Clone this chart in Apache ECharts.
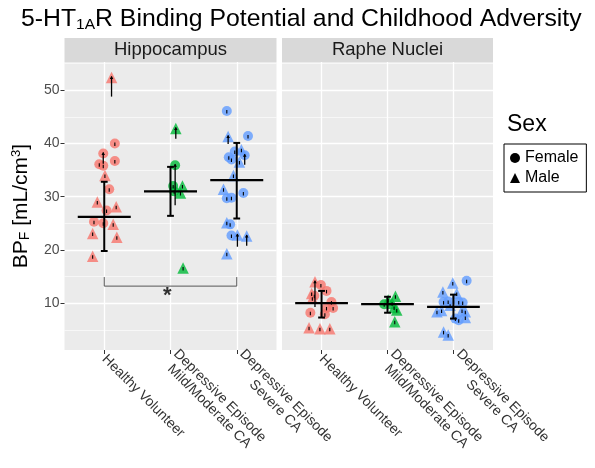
<!DOCTYPE html>
<html><head><meta charset="utf-8">
<script src="https://cdn.jsdelivr.net/npm/echarts@6/dist/echarts.min.js"></script>
<style>html,body{margin:0;padding:0;background:#fff}#c{width:595px;height:468px}</style>
</head><body><div id="c"></div>
<script>
// ---------- data ----------
const groups = ['Healthy Volunteer', 'Depressive Episode\nMild/Moderate CA', 'Depressive Episode\nSevere CA'];
const groupColors = ['#F8766D', '#00BA38', '#619CFF'];
const facets = ['Hippocampus', 'Raphe Nuclei'];
const yTicks = [10, 20, 30, 40, 50];
const yMinor = [5, 15, 25, 35, 45, 55];
const catTicks = [1, 2, 3];

// Hippocampus - Healthy Volunteer
const hipHV_pos = [1.11, 1.16, 0.985, 1.16, 0.925, 0.985, 1.01, 1.075, 0.895, 1.18, 1.035, 0.845, 0.985, 1.135, 0.825, 1.19, 0.825];
const hipHV_val = [52.4, 40.0, 38.1, 36.7, 36.1, 35.8, 34.0, 31.4, 29.0, 28.1, 27.4, 25.3, 25.0, 24.8, 23.1, 22.4, 18.8];
const hipHV_sex = ['M','F','F','F','F','F','M','F','M','M','F','F','F','M','M','M','M'];
const hipHV_tail = [48.8, null, 36.2, null, null, null, null, null, null, null, null, null, null, null, null, null, null];
// Hippocampus - Mild/Moderate CA
const hipMM_pos = [2.08, 2.07, 2.04, 2.055, 2.18, 2.15, 2.19];
const hipMM_val = [42.8, 35.9, 32.0, 31.0, 32.0, 30.7, 16.6];
const hipMM_sex = ['M','F','F','F','M','M','M'];
const hipMM_tail = [40.9, 28.4, null, null, null, null, null];
// Hippocampus - Severe CA
const hipSev_pos = [2.85, 2.87, 3.17, 3.07, 2.88, 2.92, 2.97, 3.12, 3.04, 2.95, 2.80, 2.85, 2.92, 3.10, 2.85, 2.90, 2.92, 3.01, 3.15, 2.85];
const hipSev_val = [46.1, 41.3, 41.4, 38.8, 37.4, 37.0, 38.5, 37.8, 36.5, 34.0, 31.4, 29.7, 29.8, 30.7, 25.1, 24.8, 22.7, 22.8, 22.6, 19.3];
const hipSev_sex = ['F','M','F','M','F','F','F','F','M','M','M','F','F','F','M','F','F','M','M','M'];
const hipSev_tail = [null, 39.9, null, null, null, null, null, 36.0, null, null, null, null, null, null, null, null, null, 20.6, 20.8, null];

// Raphe - Healthy Volunteer
const rapHV_pos = [0.90, 0.99, 1.075, 0.85, 0.86, 0.89, 1.15, 1.075, 1.175, 0.83, 1.05, 0.81, 0.975, 1.125];
const rapHV_val = [14.0, 13.4, 12.3, 11.8, 10.9, 11.4, 10.2, 9.1, 9.1, 8.2, 7.9, 5.4, 5.2, 5.2];
const rapHV_sex = ['M','F','F','M','M','F','F','F','F','F','F','M','M','M'];
const rapHV_tail = [9.3, null, null, null, null, null, null, null, null, null, null, null, null, null];
// Raphe - Mild/Moderate CA
const rapMM_pos = [1.95, 2.12, 2.01, 2.07, 2.10, 2.14, 2.11];
const rapMM_val = [9.8, 11.3, 10.6, 10.0, 9.2, 8.7, 6.5];
const rapMM_sex = ['F','M','M','M','M','M','M'];
const rapMM_tail = [null, null, null, null, null, null, null];
// Raphe - Severe CA
const rapSev_pos = [3.20, 2.99, 2.84, 3.05, 2.85, 2.92, 3.08, 3.14, 2.75, 2.82, 3.13, 3.18, 3.03, 3.08, 3.18, 2.85, 2.92, 2.95];
const rapSev_val = [14.2, 13.8, 12.1, 11.8, 10.2, 10.3, 10.2, 10.1, 8.4, 8.6, 8.6, 8.4, 7.1, 6.8, 7.3, 4.6, 4.0, 9.6];
const rapSev_sex = ['F','M','M','M','F','F','F','F','M','M','M','M','F','F','M','M','M','M'];
const rapSev_tail = [null, null, null, null, null, null, null, null, null, null, null, null, null, null, null, null, null, null];

// summary: mean and error bar limits per group
const hipMean = [26.2, 31.0, 33.1];
const hipLo = [19.8, 26.4, 25.9];
const hipHi = [32.8, 35.6, 40.1];
const rapMean = [10.0, 9.8, 9.3];
const rapLo = [7.3, 8.2, 7.1];
const rapHi = [12.3, 11.2, 11.6];

// significance bracket (hippocampus, HV vs Severe CA)
const sigFrom = 1, sigTo = 3, sigY = 13.2, sigTop = 14.9;
const sigStarPos = [1.95, 11.3];

// ---------- build ----------
const FONT = 'Liberation Sans, Arial, Helvetica, sans-serif';
const hipGroups = [[hipHV_pos, hipHV_val, hipHV_sex, hipHV_tail], [hipMM_pos, hipMM_val, hipMM_sex, hipMM_tail], [hipSev_pos, hipSev_val, hipSev_sex, hipSev_tail]];
const rapGroups = [[rapHV_pos, rapHV_val, rapHV_sex, rapHV_tail], [rapMM_pos, rapMM_val, rapMM_sex, rapMM_tail], [rapSev_pos, rapSev_val, rapSev_sex, rapSev_tail]];

function pts(gs, sex) {
  const out = [];
  gs.forEach((g, gi) => {
    g[0].forEach((x, i) => {
      if (g[2][i] === sex) out.push({ value: [x, g[1][i]], itemStyle: { color: groupColors[gi] } });
    });
  });
  return out;
}
function tails(gs) {
  const out = [];
  gs.forEach(g => g[0].forEach((x, i) => out.push([x, g[1][i], g[3][i] == null ? 0 : g[3][i]])));
  return out;
}
function tailItem(params, api) {
  const x = api.value(0), v = api.value(1), t = api.value(2);
  const p = api.coord([x, v]);
  if (t > 0) {
    const q = api.coord([x, t]);
    return { type: 'group', children: [
      { type: 'line', shape: { x1: q[0], y1: q[1], x2: p[0], y2: p[1] - 1 }, style: { stroke: '#000', lineWidth: 1.3 } },
      { type: 'polygon', shape: { points: [[p[0] - 1.8, p[1] + 1.5], [p[0] + 1.8, p[1] + 1.5], [p[0], p[1] - 1.5]] }, style: { fill: '#000' } }
    ] };
  }
  return { type: 'line', shape: { x1: p[0], y1: p[1] - 1, x2: p[0], y2: p[1] + 2.5 }, style: { stroke: '#000', lineWidth: 1.1 } };
}
function summaryItem(params, api) {
  const c = api.value(0), m = api.value(1), lo = api.value(2), hi = api.value(3);
  const a = api.coord([c - 0.4, m]), b = api.coord([c + 0.4, m]);
  const t = api.coord([c, hi]), bt = api.coord([c, lo]);
  const cap = 3.4;
  const st = { stroke: '#000', lineWidth: 2 };
  return { type: 'group', children: [
    { type: 'line', shape: { x1: t[0], y1: t[1], x2: bt[0], y2: bt[1] }, style: st },
    { type: 'line', shape: { x1: t[0] - cap, y1: t[1], x2: t[0] + cap, y2: t[1] }, style: st },
    { type: 'line', shape: { x1: bt[0] - cap, y1: bt[1], x2: bt[0] + cap, y2: bt[1] }, style: st },
    { type: 'line', shape: { x1: a[0], y1: a[1], x2: b[0], y2: b[1] }, style: { stroke: '#000', lineWidth: 2.2 } }
  ] };
}
function summary(mean, lo, hi) { return mean.map((m, i) => [catTicks[i], m, lo[i], hi[i]]); }

const gridPos = [{ left: 64.5, width: 212 }, { left: 282, width: 211 }];
const TOP = 62, H = 288;

function xAxis(gi) {
  return {
    type: 'value', gridIndex: gi, min: 0.4, max: 3.6,
    axisLine: { show: false },
    axisTick: { show: true, customValues: catTicks, length: 4, lineStyle: { color: '#333', width: 1 } },
    axisLabel: { customValues: catTicks,
      formatter: v => groups[Math.round(v) - 1].split('\n').map(s => '{c|' + s + '}').join('\n'),
      rotate: -45, margin: 7,
      fontSize: 14, color: '#333', fontFamily: FONT, lineHeight: 15,
      rich: { c: { align: 'center', fontSize: 14, color: '#333', fontFamily: FONT, lineHeight: 15 } } },
    splitLine: { show: true, lineStyle: { color: '#fff', width: 1.3 } }
  };
}
function yAxis(gi) {
  const ax = {
    type: 'value', gridIndex: gi, min: 1.2, max: 55.3,
    axisLine: { show: false },
    axisTick: { show: gi === 0, customValues: yTicks, length: 4, lineStyle: { color: '#333', width: 1 } },
    axisLabel: { show: gi === 0, customValues: yTicks, fontSize: 14, color: '#4d4d4d', fontFamily: FONT, margin: 5 },
    splitLine: { show: true, lineStyle: { color: '#fff', width: 1.3 } }
  };
  if (gi === 0) {
    ax.name = 'BP{s|F} [mL/cm{p|3}]';
    ax.nameLocation = 'middle';
    ax.nameGap = 32;
    ax.nameTextStyle = { fontSize: 21, color: '#000', fontFamily: FONT,
      rich: { s: { fontSize: 14, verticalAlign: 'bottom', padding: [9, 0, 0, 0], fontFamily: FONT },
              p: { fontSize: 13, verticalAlign: 'top', padding: [0, 0, 9, 0], fontFamily: FONT } } };
  }
  return ax;
}
function minorLines(gi) {
  return { type: 'line', xAxisIndex: gi, yAxisIndex: gi, data: [], silent: true, z: 1,
    markLine: { silent: true, symbol: 'none', z: 1, animation: false, label: { show: false },
      lineStyle: { color: '#fff', width: 0.6, type: 'solid' }, emphasis: { disabled: true },
      data: yMinor.map(v => ({ yAxis: v })) } };
}
function scatter(gi, gs, sex) {
  return { type: 'scatter', name: sex === 'F' ? 'Female' : 'Male', xAxisIndex: gi, yAxisIndex: gi,
    symbol: sex === 'F' ? 'circle' : 'triangle', symbolSize: sex === 'F' ? 10 : 11.5,
    itemStyle: { opacity: 0.8 }, data: pts(gs, sex), z: 3, animation: false };
}

const series = [
  minorLines(0), minorLines(1),
  scatter(0, hipGroups, 'F'), scatter(0, hipGroups, 'M'),
  scatter(1, rapGroups, 'F'), scatter(1, rapGroups, 'M'),
  { type: 'custom', xAxisIndex: 0, yAxisIndex: 0, renderItem: tailItem, data: tails(hipGroups), z: 4, silent: true, encode: { x: 0, y: 1 } },
  { type: 'custom', xAxisIndex: 1, yAxisIndex: 1, renderItem: tailItem, data: tails(rapGroups), z: 4, silent: true, encode: { x: 0, y: 1 } },
  { type: 'custom', xAxisIndex: 0, yAxisIndex: 0, renderItem: summaryItem, data: summary(hipMean, hipLo, hipHi), z: 5, silent: true, encode: { x: 0, y: 1 } },
  { type: 'custom', xAxisIndex: 1, yAxisIndex: 1, renderItem: summaryItem, data: summary(rapMean, rapLo, rapHi), z: 5, silent: true, encode: { x: 0, y: 1 } },
  { type: 'lines', coordinateSystem: 'cartesian2d', xAxisIndex: 0, yAxisIndex: 0, polyline: true, silent: true, z: 5,
    lineStyle: { color: '#555', width: 1, opacity: 1 },
    data: [{ coords: [[sigFrom, sigTop], [sigFrom, sigY], [sigTo, sigY], [sigTo, sigTop]] }] },
  { type: 'scatter', xAxisIndex: 0, yAxisIndex: 0, symbolSize: 0, silent: true, z: 5,
    label: { show: true, position: 'inside', formatter: '*', fontSize: 22, fontWeight: 'bold', color: '#000', fontFamily: FONT },
    data: [sigStarPos] }
];

const option = {
  animation: false,
  backgroundColor: '#fff',
  title: [
    { text: '5-HT{s|1A}R Binding Potential and Childhood Adversity', left: 21, top: 6, padding: 0,
      textStyle: { fontSize: 24.8, fontWeight: 'normal', color: '#000', fontFamily: FONT,
        rich: { s: { fontSize: 15.5, verticalAlign: 'bottom', padding: [11, 0, 0, 0], fontFamily: FONT, color: '#000' } } } },
    { text: 'Sex', left: 507, top: 113, padding: 0, textStyle: { fontSize: 23, fontWeight: 'normal', color: '#000', fontFamily: FONT } }
  ],
  legend: {
    orient: 'vertical', left: 504, top: 144, padding: [6, 8, 6, 6], itemGap: 4, itemWidth: 10, itemHeight: 10,
    borderColor: '#000', borderWidth: 1, selectedMode: false,
    textStyle: { fontSize: 16, color: '#000', fontFamily: FONT },
    data: [{ name: 'Female', icon: 'circle', itemStyle: { color: '#000', opacity: 1 } },
           { name: 'Male', icon: 'triangle', itemStyle: { color: '#000', opacity: 1 } }]
  },
  grid: gridPos.map(g => ({ left: g.left, width: g.width, top: TOP, height: H, show: true, backgroundColor: '#EBEBEB', borderWidth: 0 })),
  xAxis: [xAxis(0), xAxis(1)],
  yAxis: [yAxis(0), yAxis(1)],
  graphic: [
    { type: 'rect', shape: { x: gridPos[0].left, y: 38, width: gridPos[0].width, height: 24 }, style: { fill: '#D9D9D9' }, z: 0 },
    { type: 'rect', shape: { x: gridPos[1].left, y: 38, width: gridPos[1].width, height: 24 }, style: { fill: '#D9D9D9' }, z: 0 },
    { type: 'text', x: gridPos[0].left + gridPos[0].width / 2, y: 50, style: { text: facets[0], fontSize: 18.5, fill: '#1a1a1a', align: 'center', verticalAlign: 'middle', fontFamily: FONT }, z: 1 },
    { type: 'text', x: gridPos[1].left + gridPos[1].width / 2, y: 50, style: { text: facets[1], fontSize: 18.5, fill: '#1a1a1a', align: 'center', verticalAlign: 'middle', fontFamily: FONT }, z: 1 }
  ],
  series: series
};
const chart = echarts.init(document.getElementById('c'), null, { renderer: 'canvas' });
chart.setOption(option);
</script>
</body></html>
